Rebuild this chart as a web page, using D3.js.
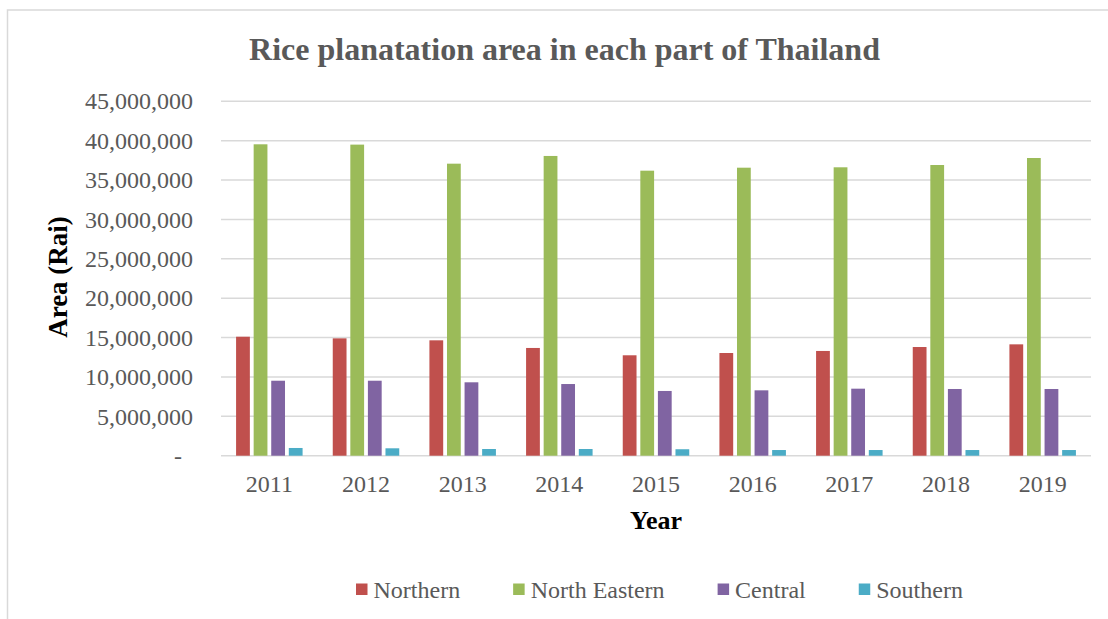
<!DOCTYPE html>
<html>
<head>
<meta charset="utf-8">
<script src="https://cdn.jsdelivr.net/npm/d3@7"></script>
<style>
  html, body { margin: 0; padding: 0; background: #fff; }
  svg { display: block; }
</style>
</head>
<body>
<svg id="chart" width="1108" height="619"></svg>
<script>
const years = ["2011", "2012", "2013", "2014", "2015", "2016", "2017", "2018", "2019"];
const seriesNames = ["Northern", "North Eastern", "Central", "Southern"];
const northern     = [15110000, 14900000, 14650000, 13680000, 12750000, 13040000, 13300000, 13800000, 14140000];
const northEastern = [39540000, 39500000, 37080000, 38060000, 36190000, 36570000, 36620000, 36910000, 37800000];
const central      = [9520000, 9520000, 9320000, 9100000, 8220000, 8300000, 8510000, 8470000, 8470000];
const southern     = [980000, 940000, 850000, 850000, 820000, 720000, 720000, 720000, 720000];
const yTicks = [0, 5000000, 10000000, 15000000, 20000000, 25000000, 30000000, 35000000, 40000000, 45000000];
const colors = ["#C0504D", "#9BBB59", "#8064A2", "#4BACC6"];

const seriesValues = [northern, northEastern, central, southern];
const svg = d3.select("#chart");
const FONT = "'Liberation Serif', 'Times New Roman', serif";

// chart border
svg.append("rect")
  .attr("x", 7.5).attr("y", 10).attr("width", 1300).attr("height", 800)
  .attr("fill", "none").attr("stroke", "#D9D9D9").attr("stroke-width", 1.5);

const plot = { left: 221, right: 1091, top: 101.3, bottom: 455.7 };

const x0 = d3.scaleBand().domain(years).range([plot.left, plot.right]).paddingInner(0).paddingOuter(0);
const slot = x0.bandwidth() / 5.5;
const x1 = d3.scaleBand().domain(seriesNames)
  .range([(x0.bandwidth() - 4 * slot) / 2, (x0.bandwidth() + 4 * slot) / 2]);
const y = d3.scaleLinear().domain([0, 45000000]).range([plot.bottom, plot.top]);

// gridlines
svg.append("g").selectAll("line").data(yTicks).join("line")
  .attr("x1", plot.left).attr("x2", plot.right)
  .attr("y1", d => y(d)).attr("y2", d => y(d))
  .attr("stroke", "#D9D9D9").attr("stroke-width", 1.4);

// y axis labels
const yAxis = d3.axisLeft(y).tickValues(yTicks)
  .tickFormat(d => d === 0 ? "-" : d3.format(",")(d))
  .tickSize(0).tickPadding(0);
const gy = svg.append("g").attr("transform", `translate(${plot.left - 28},0)`).call(yAxis);
gy.select(".domain").remove();
gy.selectAll("text")
  .attr("font-family", FONT).attr("font-size", 24).attr("fill", "#595959")
  .attr("dy", "0.32em")
  .attr("x", d => d === 0 ? -11 : 0);

// x axis labels
const xAxis = d3.axisBottom(x0).tickSize(0).tickPadding(0);
const gx = svg.append("g").attr("transform", `translate(0,${plot.bottom})`).call(xAxis);
gx.select(".domain").remove();
gx.selectAll("text")
  .attr("font-family", FONT).attr("font-size", 24).attr("fill", "#595959")
  .attr("y", 36).attr("dy", 0);

// bars
const inset = 1.9;
const groups = svg.append("g").selectAll("g").data(years).join("g")
  .attr("transform", d => `translate(${x0(d)},0)`);
groups.selectAll("rect")
  .data((yr, i) => seriesNames.map((s, k) => ({ s, k, v: seriesValues[k][i] })))
  .join("rect")
  .attr("x", d => x1(d.s) + inset)
  .attr("width", x1.bandwidth() - 2 * inset)
  .attr("y", d => y(d.v))
  .attr("height", d => y(0) - y(d.v))
  .attr("fill", d => colors[d.k]);

// title
svg.append("text")
  .attr("x", 564.5).attr("y", 60).attr("text-anchor", "middle")
  .attr("font-family", FONT).attr("font-size", 32).attr("font-weight", "bold")
  .attr("fill", "#595959")
  .text("Rice planatation area in each part of Thailand");

// axis titles
svg.append("text")
  .attr("transform", "translate(66.5,277) rotate(-90)")
  .attr("text-anchor", "middle")
  .attr("font-family", FONT).attr("font-size", 27).attr("font-weight", "bold")
  .attr("fill", "#000")
  .text("Area (Rai)");

svg.append("text")
  .attr("x", (plot.left + plot.right) / 2).attr("y", 529).attr("text-anchor", "middle")
  .attr("font-family", FONT).attr("font-size", 26).attr("font-weight", "bold")
  .attr("fill", "#000")
  .text("Year");

// legend
const legend = svg.append("g");
let lx = 356;
seriesNames.forEach((name, k) => {
  legend.append("rect")
    .attr("x", lx).attr("y", 583.5).attr("width", 11.5).attr("height", 11.5)
    .attr("fill", colors[k]);
  const t = legend.append("text")
    .attr("x", lx + 17.5).attr("y", 598)
    .attr("font-family", FONT).attr("font-size", 24).attr("fill", "#595959")
    .text(name);
  const w = t.node().getComputedTextLength();
  lx += 17.5 + w + 53;
});
</script>
</body>
</html>
